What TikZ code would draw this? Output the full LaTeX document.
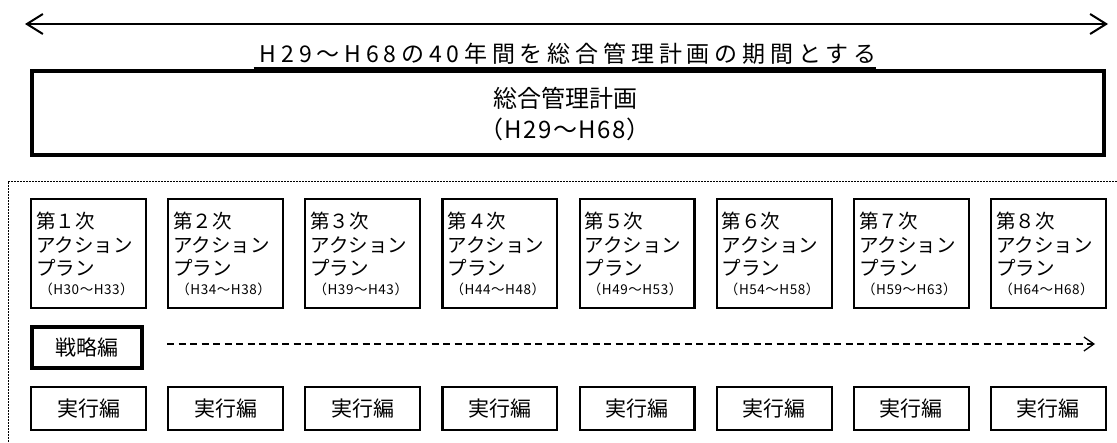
\documentclass[tikz,border=0pt]{standalone}
\usepackage{fontspec}
\setmainfont{Noto Sans CJK JP}
\usetikzlibrary{arrows.meta,calc}
\begin{document}
\begin{tikzpicture}[x=1pt,y=-1pt,
  planbox/.style={draw, line width=2.2pt, inner sep=0pt, minimum width=114.8pt, minimum height=108.8pt},
  execbox/.style={draw, line width=2.2pt, inner sep=0pt, minimum width=114.8pt, minimum height=42.8pt, font=\fontsize{21}{21}\selectfont},
  thickbox/.style={draw, line width=4pt, inner sep=0pt},
  plantext/.style={anchor=base west, inner sep=0pt, font=\fontsize{19.5}{19.5}\selectfont},
  yeartext/.style={anchor=base, inner sep=0pt, font=\fontsize{13.5}{13.5}\selectfont\addfontfeature{LetterSpace=4}},
  bigarrow/.style={line width=2pt, {Straight Barb[length=16pt,width=20pt,line width=2pt]}-{Straight Barb[length=16pt,width=20pt,line width=2pt]}},
  flowarrow/.style={line width=1.3pt, dash pattern=on 7pt off 4.5pt, -{Straight Barb[length=10pt,width=14pt,line width=1.3pt]}},
  frame/.style={line width=0.9pt, dash pattern=on 2pt off 1pt}
]
\useasboundingbox (0,0) rectangle (1117,442);
% top span arrow
\coordinate (L) at (25,24);
\coordinate (R) at (1108,24);
\draw[bigarrow] (L) -- (R);
% title
\node[inner sep=0pt, anchor=base] (title) at (568,62.5)
  {\fontsize{23}{23}\selectfont\addfontfeature{LetterSpace=21}H29～H68の40年間を総合管理計画の期間とする};
\draw[line width=2pt] ([xshift=-6pt,yshift=-5pt]title.base west) -- ([xshift=0pt,yshift=-5pt]title.base east);
% main box
\node[thickbox, minimum width=1072pt, minimum height=84pt] (main) at (568,113) {};
\node[align=center, inner sep=0pt, font=\fontsize{24}{31}\selectfont] (maintext) at (565,114.5) {総合管理計画\\{\addfontfeature{LetterSpace=6}（H29～H68）}};
% dashed frame
\draw[frame] (1117,181) -- (8,181) -- (8,442);
% action plan boxes
\foreach \i/\n/\yr in {1/１/H30～H33,2/２/H34～H38,3/３/H39～H43,4/４/H44～H48,5/５/H49～H53,6/６/H54～H58,7/７/H59～H63,8/８/H64～H68}{
  \pgfmathsetmacro\xl{30+(\i-1)*137.14}
  \pgfmathsetmacro\xc{\xl+58.5}
  \node[planbox] (plan\i) at (\xc,253.5) {};
  \node[plantext] (pa\i) at (\xl+6,228.5) {第\n 次};
  \node[plantext] (pb\i) at (\xl+6,252.5) {アクション};
  \node[plantext] (pc\i) at (\xl+6,275.5) {プラン};
  \node[yeartext] (pd\i) at (\xc-2,294) {（\yr）};
  \node[execbox] (exec\i) at (\xc,408.5) {実行編};
}
% strategy
\node[thickbox, minimum width=110pt, minimum height=41pt, font=\fontsize{21}{21}\selectfont] (strat) at (87,347.5) {戦略編};
\coordinate (flowend) at (1095,344);
\draw[flowarrow] ([xshift=23pt]strat.east |- flowend) -- (flowend);
\end{tikzpicture}
\end{document}
